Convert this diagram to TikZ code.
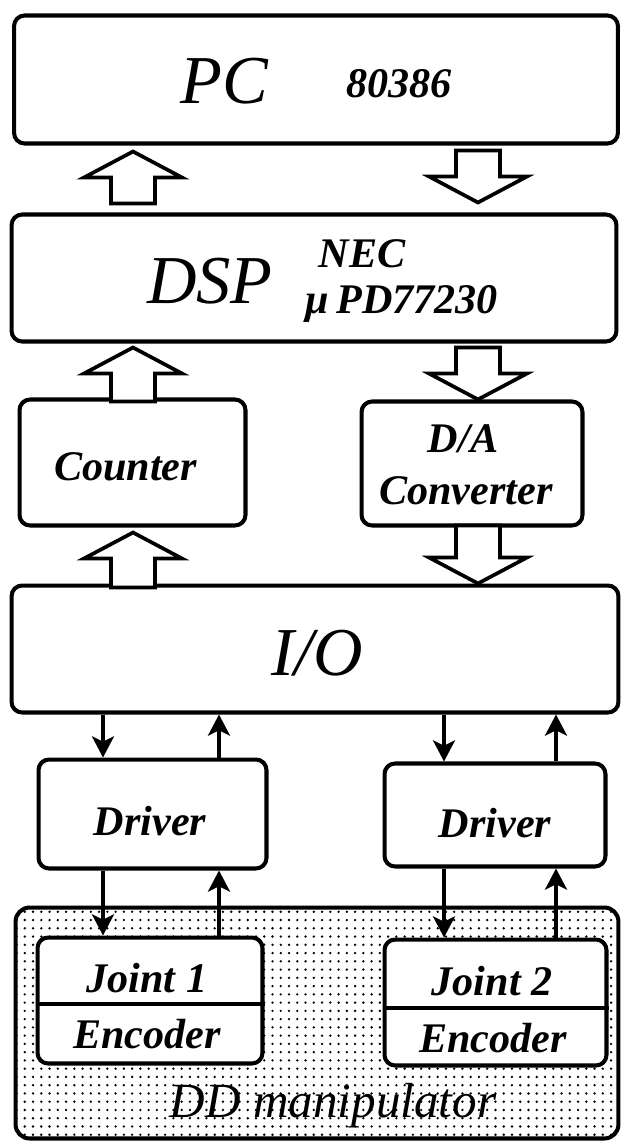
\documentclass[tikz,border=0pt]{standalone}
\usepackage{fontspec}
\setmainfont{Liberation Serif}
\usetikzlibrary{arrows.meta, patterns.meta, calc}

\newcommand{\bigfont}{\fontsize{39pt}{41pt}\selectfont\itshape}
\newcommand{\labfont}{\fontsize{24pt}{26pt}\selectfont\bfseries\itshape}

\tikzset{
  box/.style={draw, line width=2.3pt, rounded corners=6pt, fill=white, inner sep=0pt},
  lab/.style={anchor=base, inner sep=0pt, font=\labfont},
  biglab/.style={anchor=base, inner sep=0pt, font=\bigfont},
  blk/.style={draw, line width=2.1pt, fill=white, line join=miter},
  sig/.style={line width=2pt, -{Stealth[length=12pt, width=12.5pt, inset=3pt]}},
  pics/uparr/.style={code={
    \draw[blk] (0,0) -- (49,26) -- (22,26) -- (22,#1) -- (-22,#1) -- (-22,26) -- (-49,26) -- cycle;}},
  pics/uparr/.default=52,
  pics/dnarr/.style={code={
    \draw[blk] (0,0) -- (49,-26) -- (22,-26) -- (22,-#1) -- (-22,-#1) -- (-22,-26) -- (-49,-26) -- cycle;}},
  pics/dnarr/.default=52,
}

\begin{document}
\begin{tikzpicture}[x=0.02cm, y=-0.02cm]
  \useasboundingbox (0,0) rectangle (621,1143);

  % main boxes
  \node[box, minimum width=12.08cm, minimum height=2.56cm] (pc) at (316,79.5) {};
  \node[box, minimum width=12.10cm, minimum height=2.54cm] (dsp) at (314,278) {};
  \node[box, minimum width=4.52cm, minimum height=2.52cm] (cnt) at (132.5,462.5) {};
  \node[box, minimum width=4.42cm, minimum height=2.48cm] (da) at (472,463.5) {};
  \node[box, minimum width=12.14cm, minimum height=2.54cm] (io) at (315,649) {};
  \node[box, minimum width=4.56cm, minimum height=2.18cm] (drvl) at (152.5,814) {};
  \node[box, minimum width=4.42cm, minimum height=2.06cm] (drvr) at (495,815) {};

  % DD manipulator with the joints
  \node[box, rounded corners=8pt, fill=none, pattern={Dots[radius=0.75pt, distance=4.7pt]},
        minimum width=12.06cm, minimum height=4.62cm] (dd) at (317,1023) {};
  \node[box, minimum width=4.50cm, minimum height=2.52cm] (jnt1) at (150,1000.5) {};
  \node[box, minimum width=4.44cm, minimum height=2.52cm] (jnt2) at (495.5,1002.5) {};
  \draw[line width=2.3pt] (jnt1.west |- 0,1004) -- (jnt1.east |- 0,1004);
  \draw[line width=2.3pt] (jnt2.west |- 0,1008) -- (jnt2.east |- 0,1008);

  % texts
  \node[biglab] (pclab) at (224.5,103) {PC};
  \node[lab] (cpulab) at (399,97) {80386};
  \node[biglab] (dsplab) at (210,303) {DSP};
  \node[lab] (neclab) at (362,267) {NEC};
  \node[lab] (chiplab) at (402,313) {μ\,PD77230};
  \node[lab] (cntlab) at (125.5,480) {Counter};
  \node[lab] (dalab) at (463,452) {D/A};
  \node[lab] (convlab) at (466,504) {Converter};
  \node[biglab] (iolab) at (317,675) {I/O};
  \node[lab] (drvllab) at (150,835) {Driver};
  \node[lab] (drvrlab) at (495,837) {Driver};
  \node[lab] (j1lab) at (147,992) {Joint 1};
  \node[lab] (e1lab) at (147,1048) {Encoder};
  \node[lab] (j2lab) at (492,995) {Joint 2};
  \node[lab] (e2lab) at (493,1052) {Encoder};
  \node[anchor=base, inner sep=0pt, font=\fontsize{28pt}{30pt}\selectfont\itshape] (ddlab) at (333,1117) {DD manipulator};

  % block arrows
  \coordinate (lcol) at (133,0);
  \coordinate (rcol) at (478,0);
  \path (lcol |- pc.south) ++(0,6) pic {uparr};
  \path (rcol |- dsp.north) ++(0,-10) pic {dnarr};
  \path (lcol |- dsp.south) ++(0,4) pic {uparr=54};
  \path (rcol |- da.north) pic {dnarr};
  \path (lcol |- cnt.south) ++(0,5) pic {uparr=55};
  \path (rcol |- io.north) pic {dnarr=58};

  % signal lines
  \coordinate (c1) at (103,0);
  \coordinate (c2) at (219,0);
  \coordinate (c3) at (444,0);
  \coordinate (c4) at (556,0);
  \draw[sig] (c1 |- io.south) -- (c1 |- drvl.north);
  \draw[sig] (c2 |- drvl.north) -- (c2 |- io.south);
  \draw[sig] (c3 |- io.south) -- (c3 |- drvr.north);
  \draw[sig] (c4 |- drvr.north) -- (c4 |- io.south);
  \draw[sig] (c1 |- drvl.south) -- (c1 |- jnt1.north);
  \draw[sig] (c2 |- jnt1.north) -- (c2 |- drvl.south);
  \draw[sig] (c3 |- drvr.south) -- (c3 |- jnt2.north);
  \draw[sig] (c4 |- jnt2.north) -- (c4 |- drvr.south);
\end{tikzpicture}
\end{document}
